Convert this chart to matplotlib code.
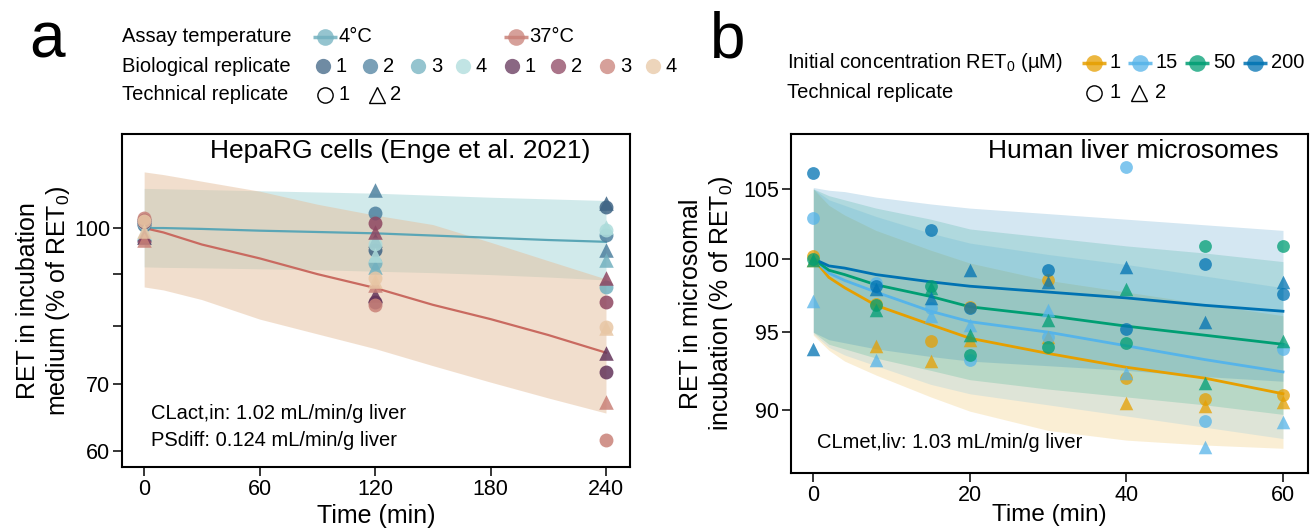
import matplotlib
matplotlib.use("Agg")
import matplotlib.pyplot as plt

plt.rcParams['font.family'] = ['Liberation Sans', 'DejaVu Sans']
plt.rcParams['mathtext.fontset'] = 'custom'
plt.rcParams['mathtext.rm'] = 'Liberation Sans'

# --- panel a: HepaRG cells ---
time_a = [0, 120, 240]
sim_time_a = [0, 10, 30, 60, 90, 120, 150, 180, 210, 240]
mean_4c = [100, 100.0, 99.8, 99.4, 99.1, 98.8, 98.3, 97.8, 97.3, 96.9]
upper_4c = [109.5, 109.4, 109.2, 108.9, 108.6, 108.3, 107.8, 107.3, 106.9, 106.5]
lower_4c = [91.5, 91.4, 91.3, 91.1, 90.9, 90.6, 90.3, 89.9, 89.4, 88.8]
mean_37c = [100, 99.0, 96.3, 93.3, 90.0, 87.2, 83.9, 81.2, 78.3, 75.2]
upper_37c = [113.7, 113.0, 111.3, 108.8, 105.6, 103.0, 100.8, 96.8, 92.8, 89.0]
lower_37c = [87.4, 86.8, 84.9, 81.2, 78.5, 75.9, 73.0, 70.3, 67.8, 65.5]

# biological replicate 1..4, values at time_a
hepa_4c_tech1 = [[101.0, 95.1, 104.9], [100.6, 103.5, 98.4], [101.8, 92.3, 87.4], [101.2, 96.5, 99.5]]
hepa_4c_tech2 = [[98.6, 97.3, 105.9], [98.9, 109.1, 95.1], [98.0, 91.5, 93.0], [99.0, 94.0, 100.2]]
hepa_37c_tech1 = [[101.4, 84.4, 72.0], [101.8, 101.1, 84.4], [102.4, 83.9, 61.6], [101.6, 89.2, 79.8]]
hepa_37c_tech2 = [[97.9, 85.8, 75.2], [98.4, 99.1, 89.2], [97.4, 87.8, 67.2], [99.4, 88.5, 79.5]]

colors_4c = ['#3f6585', '#4e819f', '#72b1bf', '#addcdb']
colors_37c = ['#63345a', '#8e4661', '#c98178', '#e8c7a5']

# --- panel b: human liver microsomes ---
concentrations = ['1', '15', '50', '200']
conc_colors = ['#E69F00', '#56B4E9', '#009E73', '#0072B2']
time_b = [0, 8, 15, 20, 30, 40, 50, 60]
sim_time_b = [0, 2, 4, 8, 15, 20, 30, 40, 50, 60]
mean_b = [
    [100, 98.7, 98.0, 96.8, 95.5, 94.6, 93.6, 92.7, 92.0, 91.0],
    [100, 99.0, 98.5, 97.7, 96.4, 95.7, 95.0, 94.1, 93.2, 92.4],
    [100, 99.2, 98.9, 98.2, 97.4, 96.7, 96.1, 95.4, 94.8, 94.2],
    [100, 99.5, 99.35, 98.9, 98.4, 98.1, 97.7, 97.3, 96.8, 96.4],
]
upper_b = [
    [105.0, 103.8, 103.1, 102.0, 100.6, 99.7, 98.5, 97.7, 96.9, 96.1],
    [105.0, 104.2, 103.8, 103.0, 101.8, 101.1, 100.3, 99.6, 98.8, 98.0],
    [105.0, 104.5, 104.2, 103.6, 102.8, 102.1, 101.5, 100.9, 100.4, 99.8],
    [105.1, 104.9, 104.8, 104.4, 103.9, 103.6, 103.2, 102.8, 102.4, 102.0],
]
lower_b = [
    [94.8, 93.8, 93.1, 92.2, 90.8, 89.9, 88.7, 88.1, 87.8, 87.6],
    [94.9, 94.0, 93.5, 92.8, 91.6, 91.0, 90.3, 89.6, 88.9, 88.2],
    [95.0, 94.2, 93.9, 93.3, 92.5, 91.9, 91.3, 90.8, 90.3, 89.7],
    [95.0, 94.5, 94.3, 93.9, 93.4, 93.1, 92.8, 92.5, 92.1, 91.8],
]
hlm_tech1 = [
    [100.2, 96.9, 94.4, 96.7, 98.5, 92.0, 90.7, 90.9],
    [102.9, 98.3, 96.6, 93.2, 94.7, 106.6, 89.3, 93.9],
    [100.0, 96.8, 98.1, 93.5, 94.0, 94.3, 100.9, 100.9],
    [106.2, 98.1, 102.0, 96.6, 99.2, 95.2, 99.6, 97.6],
]
hlm_tech2 = [
    [99.9, 94.1, 93.1, 94.5, 94.7, 90.4, 90.2, 90.5],
    [97.1, 93.2, 96.1, 95.5, 96.5, 92.3, 87.7, 89.2],
    [99.9, 96.5, 98.0, 94.8, 95.8, 97.9, 91.7, 94.4],
    [93.9, 97.9, 97.3, 99.2, 98.4, 99.4, 95.7, 98.4],
]

fig = plt.figure(figsize=(13.15, 5.3), dpi=100)
ax_a = fig.add_axes([0.0928, 0.1189, 0.3863, 0.6283])
ax_b = fig.add_axes([0.6015, 0.1075, 0.3932, 0.6396])

# panel a
ax_a.fill_between(sim_time_a, lower_4c, upper_4c, color='#a5d6d8', alpha=0.5, lw=0)
ax_a.fill_between(sim_time_a, lower_37c, upper_37c, color='#e5bf9c', alpha=0.5, lw=0)
ax_a.plot(sim_time_a, mean_4c, color='#5aa6b6', lw=1.6)
ax_a.plot(sim_time_a, mean_37c, color='#c96a60', lw=1.6)
for i in range(4):
    ax_a.scatter(time_a, hepa_4c_tech1[i], s=100, marker='o', color=colors_4c[i], alpha=0.85, lw=0, zorder=3)
    ax_a.scatter(time_a, hepa_4c_tech2[i], s=110, marker='^', color=colors_4c[i], alpha=0.85, lw=0, zorder=3)
for i in range(4):
    ax_a.scatter(time_a, hepa_37c_tech1[i], s=100, marker='o', color=colors_37c[i], alpha=0.85, lw=0, zorder=3)
    ax_a.scatter(time_a, hepa_37c_tech2[i], s=110, marker='^', color=colors_37c[i], alpha=0.85, lw=0, zorder=3)

ax_a.set_yscale('log')
ax_a.set_ylim(57.9, 124)
ax_a.set_yticks([60, 70, 80, 90, 100])
ax_a.set_yticklabels(['60', '70', '', '', '100'])
ax_a.minorticks_off()
ax_a.set_xlim(-11.5, 252.5)
ax_a.set_xticks([0, 60, 120, 180, 240])
ax_a.set_xlabel('Time (min)', fontsize=18, labelpad=3)
ax_a.set_ylabel('RET in incubation\nmedium (% of RET$_{\\mathregular{0}}$)', fontsize=18)
ax_a.yaxis.set_label_coords(-0.098, 0.5)
ax_a.text(0.548, 0.985, 'HepaRG cells (Enge et al. 2021)', transform=ax_a.transAxes,
          ha='center', va='top', fontsize=19)
ax_a.text(0.057, 0.162, 'CLact,in: 1.02 mL/min/g liver', transform=ax_a.transAxes,
          ha='left', va='center', fontsize=14.5)
ax_a.text(0.057, 0.081, 'PSdiff: 0.124 mL/min/g liver', transform=ax_a.transAxes,
          ha='left', va='center', fontsize=14.5)

# panel b
for i in range(4):
    ax_b.fill_between(sim_time_b, lower_b[i], upper_b[i], color=conc_colors[i], alpha=0.17, lw=0)
for i in range(4):
    ax_b.plot(sim_time_b, mean_b[i], color=conc_colors[i], lw=2)
for i in range(4):
    ax_b.scatter(time_b, hlm_tech1[i], s=85, marker='o', color=conc_colors[i], alpha=0.75, lw=0, zorder=3)
    ax_b.scatter(time_b, hlm_tech2[i], s=95, marker='^', color=conc_colors[i], alpha=0.75, lw=0, zorder=3)

ax_b.set_yscale('log')
ax_b.set_ylim(86.1, 109.1)
ax_b.set_yticks([90, 95, 100, 105])
ax_b.set_yticklabels(['90', '95', '100', '105'])
ax_b.minorticks_off()
ax_b.set_xlim(-2.85, 63.2)
ax_b.set_xticks([0, 20, 40, 60])
ax_b.set_xlabel('Time (min)', fontsize=17.5, labelpad=-1)
ax_b.set_ylabel('RET in microsomal\nincubation (% of RET$_{\\mathregular{0}}$)', fontsize=18)
ax_b.yaxis.set_label_coords(-0.108, 0.5)
ax_b.text(0.663, 0.985, 'Human liver microsomes', transform=ax_b.transAxes,
          ha='center', va='top', fontsize=19)
ax_b.text(0.05, 0.091, 'CLmet,liv: 1.03 mL/min/g liver', transform=ax_b.transAxes,
          ha='left', va='center', fontsize=14.5)

for ax in (ax_a, ax_b):
    for sp in ax.spines.values():
        sp.set_linewidth(1.5)
    ax.tick_params(direction='out', length=6.5, width=1.1, labelsize=15.5, pad=2)

# --- legends (drawn in pixel coordinates) ---
leg = fig.add_axes([0, 0, 1, 1])
leg.set_xlim(0, 1315)
leg.set_ylim(530, 0)
leg.axis('off')

def key(x, y, color, marker='o', line=False, filled=True, ms=10):
    if line:
        leg.plot([x - 12, x + 12], [y, y], color=color, lw=2.5, alpha=0.85, solid_capstyle='butt')
    if filled:
        leg.plot([x], [y], marker=marker, ms=ms, color=color, alpha=0.75, mew=0, ls='none')
    else:
        leg.plot([x], [y], marker=marker, ms=ms, mfc='none', mec='black', mew=1.0, ls='none')

def label(x, y, s):
    leg.text(x, y, s, ha='left', va='center', fontsize=14.5)

fig.text(29 / 1315, 1 - 58 / 530, 'a', fontsize=46, va='baseline')
fig.text(710 / 1315, 1 - 58 / 530, 'b', fontsize=46, va='baseline')

label(122, 37, 'Assay temperature')
label(122, 66, 'Biological replicate')
label(122, 95, 'Technical replicate')
key(325, 37, '#72b1bf', line=True, ms=12)
label(339, 37, '4°C')
key(516, 37, '#c98178', line=True, ms=12)
label(529, 37, '37°C')
for x, c, t in zip([323, 370, 418, 463, 512, 558, 607, 653], colors_4c + colors_37c,
                   ['1', '2', '3', '4', '1', '2', '3', '4']):
    key(x, 66, c, ms=11)
    label(x + 13, 66, t)
key(325, 95, 'black', filled=False, ms=11)
label(339, 95, '1')
key(377, 95, 'black', marker='^', filled=False, ms=11)
label(390, 95, '2')

label(787, 63, 'Initial concentration RET$_{\\mathregular{0}}$ (µM)')
label(787, 93, 'Technical replicate')
for x, c, t in zip([1094, 1140, 1197, 1255], conc_colors, concentrations):
    key(x, 63, c, line=True, ms=12)
    label(x + 16, 63, t)
key(1094, 93, 'black', filled=False, ms=11)
label(1110, 93, '1')
key(1139, 93, 'black', marker='^', filled=False, ms=11)
label(1155, 93, '2')

fig.savefig('out.png', dpi=100)
